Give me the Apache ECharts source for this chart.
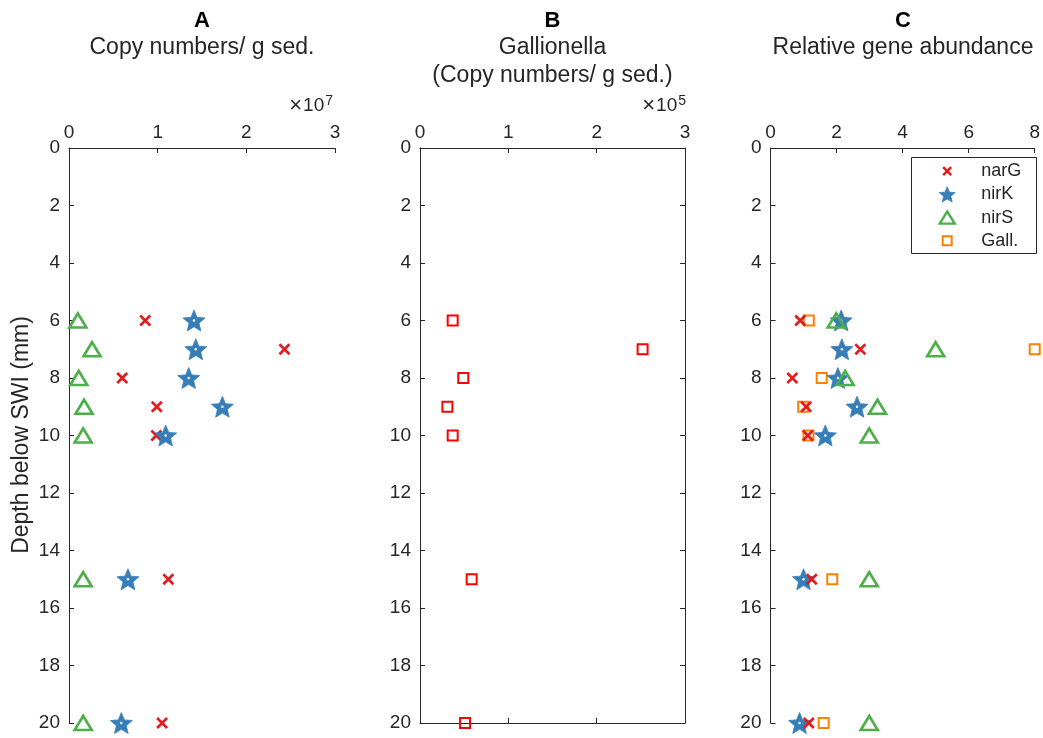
<!DOCTYPE html>
<html>
<head>
<meta charset="utf-8">
<script src="https://cdn.jsdelivr.net/npm/echarts@6/dist/echarts.min.js"></script>
<style>
  html, body { margin: 0; padding: 0; background: #fff; }
  #chart { width: 1043px; height: 738px; }
</style>
</head>
<body>
<div id="chart"></div>
<script>
// Sampling depths below the sediment-water interface (mm)
const depths = [6, 7, 8, 9, 10, 15, 20];

// Panel A: gene copy numbers per g sediment (x 10^7)
const narG_A = [0.86, 2.43, 0.60, 0.99, 0.985, 1.12, 1.05];
const nirK_A = [1.41, 1.43, 1.35, 1.73, 1.09, 0.665, 0.59];
const nirS_A = [0.10, 0.26, 0.11, 0.17, 0.16, 0.16, 0.16];

// Panel B: Gallionella copy numbers per g sediment (x 10^5)
const gall_B = [0.37, 2.52, 0.49, 0.31, 0.37, 0.585, 0.51];

// Panel C: relative gene abundance
const narG_C = [0.90, 2.72, 0.66, 1.08, 1.13, 1.25, 1.16];
const nirK_C = [2.14, 2.16, 2.04, 2.62, 1.66, 1.00, 0.88];
const nirS_C = [1.99, 5.00, 2.26, 3.24, 2.99, 2.99, 2.99];
const gall_C = [1.16, 8.00, 1.55, 0.99, 1.15, 1.87, 1.61];

// Axis ranges / tick steps
const depthTicks = { min: 0, max: 20, interval: 2 };
const xTicksA = { min: 0, max: 3, interval: 1 };
const xTicksB = { min: 0, max: 3, interval: 1 };
const xTicksC = { min: 0, max: 8, interval: 2 };

const FONT = '"Liberation Sans", Arial, Helvetica, sans-serif';
const AXIS_COLOR = '#262626';
const RED = '#e41a1c', BLUE = '#377eb8', GREEN = '#4daf4a', ORANGE = '#ff7f00', PURE_RED = '#ff0000';

// five-pointed star symbol
function starPath(inner) {
  const pts = [];
  for (let k = 0; k < 10; k++) {
    const r = k % 2 === 0 ? 1 : inner;
    const a = -Math.PI / 2 + k * Math.PI / 5;
    pts.push((r * Math.cos(a)).toFixed(4) + ',' + (r * Math.sin(a)).toFixed(4));
  }
  return 'path://M' + pts.join('L') + 'Z';
}
const STAR = starPath(0.45);
const CROSS = 'path://M0,0L1,1M1,0L0,1';

// legend glyphs on a 16x16 frame (the two leading moves fix the frame size)
const LEGEND_CROSS = 'path://M0,0M16,16M4,4L12,12M12,4L4,12';
const LEGEND_TRIANGLE = 'path://M0,0M16,16M0.5,14L8,2L15.5,14Z';
const LEGEND_SQUARE = 'path://M0,0M16,16M3.5,3.5L12.5,3.5L12.5,12.5L3.5,12.5Z';

function pairs(xs) { return xs.map((x, i) => [x, depths[i]]); }

const grids = [
  { left: 69, top: 148, width: 266, height: 575 },
  { left: 420, top: 148, width: 265, height: 575 },
  { left: 770.5, top: 148, width: 266, height: 575 }
];

const lineStyle = { color: AXIS_COLOR, width: 1 };
const labelStyle = { color: AXIS_COLOR, fontSize: 19, fontFamily: FONT };

function xAxisTop(gi, ticks) {
  return Object.assign({
    type: 'value', gridIndex: gi, position: 'top',
    axisLine: { show: true, onZero: false, lineStyle },
    axisTick: { show: true, inside: true, length: 5, lineStyle },
    axisLabel: Object.assign({ margin: 6 }, labelStyle),
    splitLine: { show: false }
  }, ticks);
}
function yAxisLeft(gi) {
  return Object.assign({
    type: 'value', gridIndex: gi, position: 'left', inverse: true,
    axisLine: { show: true, onZero: false, lineStyle },
    axisTick: { show: true, inside: true, length: 5, lineStyle },
    axisLabel: Object.assign({ margin: 9 }, labelStyle),
    splitLine: { show: false }
  }, depthTicks);
}

const xAxes = [
  xAxisTop(0, xTicksA),
  xAxisTop(1, xTicksB),
  xAxisTop(2, xTicksC),
  // closing frame of panel B
  Object.assign({
    type: 'value', gridIndex: 1, position: 'bottom',
    axisLine: { show: true, onZero: false, lineStyle },
    axisTick: { show: true, inside: true, length: 5, lineStyle },
    axisLabel: { show: false }, splitLine: { show: false }
  }, xTicksB)
];
const yAxes = [
  yAxisLeft(0), yAxisLeft(1), yAxisLeft(2),
  Object.assign({
    type: 'value', gridIndex: 1, position: 'right', inverse: true,
    axisLine: { show: true, onZero: false, lineStyle },
    axisTick: { show: true, inside: true, length: 5, lineStyle },
    axisLabel: { show: false }, splitLine: { show: false }
  }, depthTicks)
];

function crossSeries(name, xi, vals, color, size) {
  return {
    name, type: 'scatter', xAxisIndex: xi, yAxisIndex: xi, data: pairs(vals),
    symbol: CROSS, symbolSize: size, symbolKeepAspect: true,
    itemStyle: { color: color, borderColor: color, borderWidth: 2.6, opacity: 1 },
    emphasis: { disabled: true }, silent: true
  };
}
function starSeries(name, xi, vals) {
  return {
    name, type: 'scatter', xAxisIndex: xi, yAxisIndex: xi, data: pairs(vals),
    symbol: STAR, symbolSize: 22, symbolKeepAspect: true,
    itemStyle: { color: BLUE, borderColor: BLUE, borderWidth: 0.8, opacity: 1 },
    emphasis: { disabled: true }, silent: true
  };
}
function starDot(name, xi, vals) {
  return {
    name, type: 'scatter', xAxisIndex: xi, yAxisIndex: xi, data: pairs(vals),
    symbol: 'circle', symbolSize: 2.4,
    itemStyle: { color: '#ffffff', opacity: 1 },
    emphasis: { disabled: true }, silent: true
  };
}
function triSeries(name, xi, vals) {
  return {
    name, type: 'scatter', xAxisIndex: xi, yAxisIndex: xi, data: pairs(vals),
    symbol: 'triangle', symbolSize: [17, 14],
    itemStyle: { color: 'rgba(0,0,0,0)', borderColor: GREEN, borderWidth: 2.6, opacity: 1 },
    emphasis: { disabled: true }, silent: true
  };
}
function squareSeries(name, xi, vals, color, size) {
  return {
    name, type: 'scatter', xAxisIndex: xi, yAxisIndex: xi, data: pairs(vals),
    symbol: 'rect', symbolSize: size,
    itemStyle: { color: 'rgba(0,0,0,0)', borderColor: color, borderWidth: 2, opacity: 1 },
    emphasis: { disabled: true }, silent: true
  };
}

const series = [
  // Panel A
  crossSeries('narG copies', 0, narG_A, RED, 10),
  starSeries('nirK copies', 0, nirK_A),
  starDot('nirK copies centre', 0, nirK_A),
  triSeries('nirS copies', 0, nirS_A),
  // Panel B
  squareSeries('Gallionella copies', 1, gall_B, PURE_RED, 10),
  // Panel C
  squareSeries('Gall.', 2, gall_C, ORANGE, 10),
  starSeries('nirK', 2, nirK_C),
  starDot('nirK centre', 2, nirK_C),
  crossSeries('narG', 2, narG_C, RED, 10),
  triSeries('nirS', 2, nirS_C)
];

function centreText(text, x, y, size, weight, color) {
  return {
    type: 'text', x, y, silent: true,
    style: {
      text, fill: color || AXIS_COLOR,
      font: (weight || 'normal') + ' ' + size + 'px ' + FONT,
      textAlign: 'center', textVerticalAlign: 'middle',
      align: 'center', verticalAlign: 'middle'
    }
  };
}
function exponentText(exp, xRight, y) {
  return {
    type: 'text', x: xRight, y, silent: true,
    style: {
      text: '{m|\u00d7}{a|10}{b|' + exp + '}',
      textAlign: 'right', textVerticalAlign: 'middle',
      align: 'right', verticalAlign: 'middle',
      rich: {
        m: { fontSize: 22, fontFamily: FONT, fill: AXIS_COLOR, color: AXIS_COLOR, padding: [0, 1, 0, 0] },
        a: { fontSize: 19, fontFamily: FONT, fill: AXIS_COLOR, color: AXIS_COLOR },
        b: { fontSize: 14, fontFamily: FONT, fill: AXIS_COLOR, color: AXIS_COLOR, padding: [0, 0, 10, 1] }
      }
    }
  };
}

const graphics = [
  centreText('A', 202, 21, 22, 'bold', '#000'),
  centreText('Copy numbers/ g sed.', 202, 48, 23),
  centreText('B', 552.5, 21, 22, 'bold', '#000'),
  centreText('Gallionella', 552.5, 48, 23),
  centreText('(Copy numbers/ g sed.)', 552.5, 76, 23),
  centreText('C', 903, 21, 22, 'bold', '#000'),
  centreText('Relative gene abundance', 903, 48, 23),
  exponentText('7', 333, 106),
  exponentText('5', 686, 106),
  {
    type: 'text', x: 22, y: 435, rotation: Math.PI / 2, silent: true,
    style: {
      text: 'Depth below SWI (mm)', fill: AXIS_COLOR, font: '23px ' + FONT,
      textAlign: 'center', textVerticalAlign: 'middle', align: 'center', verticalAlign: 'middle'
    }
  },
  // legend frame
  {
    type: 'rect', shape: { x: 911.5, y: 157.5, width: 125, height: 96 }, silent: true,
    style: { fill: 'rgba(255,255,255,0)', stroke: AXIS_COLOR, lineWidth: 1 }
  }
];

const chart = echarts.init(document.getElementById('chart'), null, { renderer: 'canvas' });
chart.setOption({
  animation: false,
  backgroundColor: '#ffffff',
  grid: grids,
  xAxis: xAxes,
  yAxis: yAxes,
  series,
  legend: {
    orient: 'vertical', left: 938, top: 162, padding: 0,
    itemWidth: 16, itemHeight: 16, itemGap: 5,
    symbolKeepAspect: true,
    selectedMode: false,
    formatter: name => '{gap|}' + name,
    textStyle: {
      fontSize: 18, fontFamily: FONT, color: AXIS_COLOR,
      rich: { gap: { width: 21 } }
    },
    data: [
      { name: 'narG', icon: LEGEND_CROSS, itemStyle: { borderWidth: 2.4 } },
      { name: 'nirK', icon: STAR, itemStyle: { borderWidth: 0.8 } },
      { name: 'nirS', icon: LEGEND_TRIANGLE, itemStyle: { borderWidth: 2.4 } },
      { name: 'Gall.', icon: LEGEND_SQUARE, itemStyle: { borderWidth: 2 } }
    ]
  },
  graphic: graphics
});
</script>
</body>
</html>
